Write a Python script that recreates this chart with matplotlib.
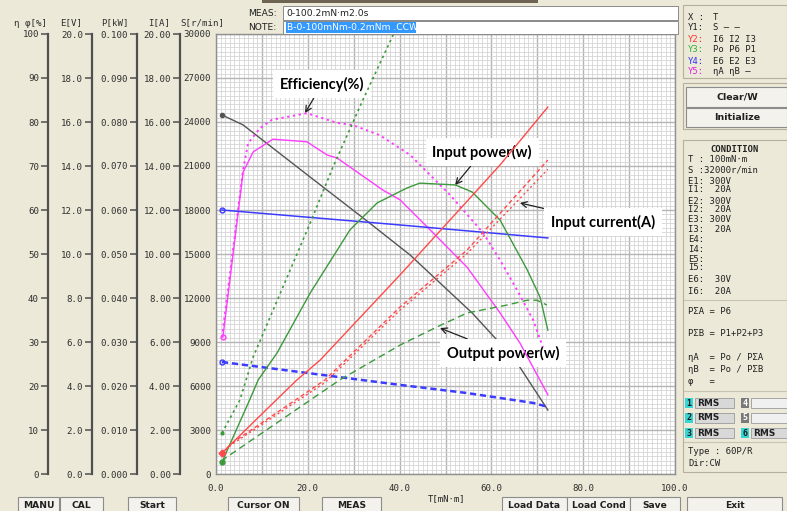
import matplotlib
matplotlib.use("Agg")
import matplotlib.pyplot as plt
from matplotlib.patches import Rectangle
from matplotlib.ticker import FixedLocator, FuncFormatter
import numpy as np

# ---------------- data ----------------
# Y1 : speed S [r/min]
t_speed = [1.3, 5.9, 20.5, 32.9, 42.3, 48.1, 55.8, 61.2, 65.6, 72.3]
speed_S = [24480, 23800, 20250, 17250, 14930, 13230, 10980, 9140, 7570, 4360]

# Y2 : currents [A]
t_i6 = [1.3, 10.0, 17.6, 22.7, 40.1, 61.9, 72.3]
cur_I6 = [0.95, 2.73, 4.27, 5.18, 9.05, 14.05, 16.68]
t_i2 = [1.3, 3.5, 23.7, 40.1, 54.7, 72.3]
cur_I2 = [0.95, 1.41, 4.27, 7.59, 10.18, 14.27]
t_i3 = [1.3, 3.5, 23.7, 40.1, 54.7, 72.3]
cur_I3 = [0.95, 1.35, 4.15, 7.45, 10.02, 13.85]

# Y3 : powers [kW]
t_po = [1.3, 2.0, 27.0, 40.1, 48.1, 54.7, 63.4, 67.8, 69.9, 72.1]
pow_Po = [0.0027, 0.0036, 0.0214, 0.0293, 0.0334, 0.0366, 0.0384, 0.0395, 0.0395, 0.0384]
t_p6 = [1.3, 7.4, 9.2, 13.3, 20.5, 29.2, 35.1, 41.6, 44.4, 52.1, 55.8, 61.9, 67.8, 70.6, 72.3]
pow_P6 = [0.0027, 0.0170, 0.0214, 0.0275, 0.0411, 0.0555, 0.0616, 0.0650, 0.0661,
          0.0657, 0.0641, 0.0577, 0.0464, 0.0402, 0.0327]
t_p1 = [1.3, 5.2, 8.1, 20.5, 25.5, 32.0, 38.6]
pow_P1 = [0.0093, 0.0168, 0.0266, 0.0570, 0.0698, 0.0850, 0.0998]

# Y4 : voltages [V]
t_e6 = [1.3, 40.1, 72.3]
volt_E6 = [12.0, 11.32, 10.73]
t_e2 = [1.3, 40.1, 54.7, 69.1, 72.3]
volt_E2 = [5.09, 4.05, 3.68, 3.23, 3.05]

# Y5 : efficiencies [%]
t_etaA = [1.5, 5.9, 8.1, 12.4, 19.8, 24.2, 26.4, 36.4, 40.1, 47.3, 54.7, 61.9, 66.2, 72.3]
eff_A = [31.1, 68.6, 73.2, 76.1, 75.5, 72.5, 71.8, 64.5, 62.3, 54.8, 47.0, 36.6, 29.8, 18.0]
t_etaB = [1.3, 5.9, 7.0, 9.6, 12.2, 19.8, 26.4, 29.8, 35.7, 42.3, 51.0, 58.2, 61.9, 65.6, 69.1, 71.2]
eff_B = [31.1, 69.1, 75.2, 78.6, 80.5, 82.0, 79.8, 79.3, 77.0, 72.5, 63.4, 54.8, 48.6, 41.8, 35.0, 28.9]

# axis ticks
x_ticks = list(range(0, 101, 10))
s_ticks = list(range(0, 30001, 3000))
eta_ticks = list(range(0, 101, 10))
e_ticks = [0.0, 2.0, 4.0, 6.0, 8.0, 10.0, 12.0, 14.0, 16.0, 18.0, 20.0]
p_ticks = [0.0, 0.01, 0.02, 0.03, 0.04, 0.05, 0.06, 0.07, 0.08, 0.09, 0.10]
i_ticks = [0.0, 2.0, 4.0, 6.0, 8.0, 10.0, 12.0, 14.0, 16.0, 18.0, 20.0]

# ---------------- figure ----------------
W, H = 787, 511
BG = "#ece9d8"
MONO = "DejaVu Sans Mono"
plt.rcParams["font.family"] = [MONO]
fig = plt.figure(figsize=(W / 100, H / 100), dpi=100, facecolor=BG)


def rect(x0, y0, x1, y1, **kw):
    r = Rectangle((x0 / W, 1 - y1 / H), (x1 - x0) / W, (y1 - y0) / H,
                  transform=fig.transFigure, **kw)
    fig.patches.append(r)
    return r


def hline(x0, x1, y, **kw):
    fig.lines.append(plt.Line2D([x0 / W, x1 / W], [1 - y / H, 1 - y / H],
                                transform=fig.transFigure, **kw))


def txt(x, y, s, **kw):
    kw.setdefault("va", "center")
    kw.setdefault("fontsize", 6.4)
    kw.setdefault("color", "#202020")
    return fig.text(x / W, 1 - y / H, s, **kw)


PL, PR, PT, PB = 216, 675, 34, 474
ax = fig.add_axes([PL / W, 1 - PB / H, (PR - PL) / W, (PB - PT) / H])
ax.set_facecolor("white")
ax.set_xlim(0, 100)
ax.set_ylim(0, 30000)
ax.set_xticks(x_ticks)
ax.set_xticks(np.arange(0, 101, 1), minor=True)
ax.set_yticks(s_ticks)
ax.set_yticks(np.arange(0, 30001, 300), minor=True)
ax.xaxis.set_major_formatter(FuncFormatter(lambda v, p: f"{v:.1f}" if int(round(v)) % 20 == 0 else ""))
ax.yaxis.set_major_formatter(FuncFormatter(lambda v, p: f"{int(v)}"))
ax.tick_params(which="both", length=0)
ax.tick_params(axis="x", pad=7, labelsize=6.6, labelcolor="#303030")
ax.tick_params(axis="y", pad=3.5, labelsize=6.6, labelcolor="#303030")
ax.grid(which="major", color="#b4b4b4", lw=1.0)
ax.grid(which="minor", color="#d2d2d2", lw=0.55)
ax.set_axisbelow(True)
for s in ax.spines.values():
    s.set_color("#909090")
    s.set_linewidth(1.0)

txt(447, 499, "T[mN·m]", ha="center")

# speed on main axis
ax.plot(t_speed, speed_S, color="#555555", lw=1.0, zorder=3)
ax.plot(t_speed[:1], speed_S[:1], "o", color="#555555", ms=3, zorder=3)


def side_axis(px, lim, ticks, fmt):
    a = ax.twinx()
    a.set_ylim(*lim)
    a.patch.set_visible(False)
    for s in a.spines.values():
        s.set_visible(False)
    sp = a.spines["left"]
    sp.set_visible(True)
    sp.set_position(("axes", (px - PL) / (PR - PL)))
    sp.set_color("#505050")
    sp.set_linewidth(1.6)
    a.yaxis.set_ticks_position("left")
    a.yaxis.set_major_locator(FixedLocator(ticks))
    a.yaxis.set_major_formatter(FuncFormatter(lambda v, p: fmt.format(v)))
    a.tick_params(axis="y", direction="out", length=5, width=1.1, color="#505050",
                  labelsize=6.6, labelcolor="#303030", pad=1.5)
    return a


ax_eta = side_axis(48, (0, 100), eta_ticks, "{:.0f}")
ax_e = side_axis(92, (0, 20), e_ticks, "{:.1f}")
ax_p = side_axis(137, (0, 0.1), p_ticks, "{:.3f}")
ax_i = side_axis(180, (0, 20), i_ticks, "{:.2f}")

for x, lab in [(30, "η φ[%]"), (71, "E[V]"), (115, "P[kW]"), (159, "I[A]"), (202, "S[r/min]")]:
    txt(x, 23, lab, ha="center", fontsize=6.6, color="#303030")

# curves
RED, GREEN, BLUE, MAG = "#ff4a4a", "#3c9a3c", "#3c3cff", "#ff3cff"
ax_i.plot(t_i6, cur_I6, color=RED, lw=1.0)
ax_i.plot(t_i2, cur_I2, color=RED, lw=1.0, ls=(0, (3, 2)))
ax_i.plot(t_i3, cur_I3, color=RED, lw=1.0, ls=(0, (1.5, 2)))
ax_i.plot(t_i6[:1], cur_I6[:1], "D", color=RED, ms=3.5)

ax_p.plot(t_p6, pow_P6, color=GREEN, lw=1.0)
ax_p.plot(t_po, pow_Po, color=GREEN, lw=1.0, ls=(0, (5, 3)))
ax_p.plot(t_p1, pow_P1, color=GREEN, lw=1.2, ls=(0, (1.5, 2)))
ax_p.plot(t_p6[:1], pow_P6[:1], "o", color=GREEN, ms=3.5)
ax_p.plot(t_p1[:1], pow_P1[:1], "o", color=GREEN, ms=2)

ax_e.plot(t_e6, volt_E6, color=BLUE, lw=1.1)
ax_e.plot(t_e2, volt_E2, color=BLUE, lw=1.8, ls=(0, (2.5, 1.5)))
ax_e.plot(t_e6[:1], volt_E6[:1], "o", mfc="none", mec=BLUE, ms=3.5)
ax_e.plot(t_e2[:1], volt_E2[:1], "o", mfc="none", mec=BLUE, ms=3.5)

ax_eta.plot(t_etaA, eff_A, color=MAG, lw=1.0)
ax_eta.plot(t_etaB, eff_B, color=MAG, lw=1.4, ls=(0, (1.2, 1.8)))
ax_eta.plot(t_etaA[:1], eff_A[:1], "o", mfc="none", mec=MAG, ms=3.5)

# annotations (main axis data coordinates)
ann_kw = dict(fontsize=10.5, fontweight="bold", family="Lato", color="black", ha="center", va="center",
              bbox=dict(boxstyle="square,pad=0.45", fc="white", ec="none"),
              arrowprops=dict(arrowstyle="->", color="#202020", lw=0.9, shrinkA=0, shrinkB=0))
ax.annotate("Efficiency(%)", xy=(19.4, 24610), xytext=(23.1, 26590), zorder=6, **ann_kw)
ax.annotate("Input power(w)", xy=(52.1, 19700), xytext=(58.0, 21950), zorder=6, **ann_kw)
ax.annotate("Input current(A)", xy=(66.2, 18480), xytext=(84.3, 17180), zorder=6, **ann_kw)
ax.annotate("Output power(w)", xy=(48.8, 9950), xytext=(62.5, 8250), zorder=6, **ann_kw)

# ---------------- UI chrome ----------------
rect(262, 0, 538, 3, fc="#6e6452", ec="none")
txt(262, 13, "MEAS:", ha="center", family="DejaVu Sans", fontsize=6.6)
txt(262, 27, "NOTE:", ha="center", family="DejaVu Sans", fontsize=6.6)
rect(283, 6, 678, 20, fc="white", ec="#8a8a8a", lw=0.7)
rect(283, 21, 678, 34, fc="white", ec="#8a8a8a", lw=0.7)
txt(286, 13, "0-100.2mN·m2.0s", ha="left", family="DejaVu Sans", fontsize=6.6)
rect(286, 22, 416, 33, fc="#3399ff", ec="none")
txt(287, 27.5, "B-0-100mNm-0.2mNm .CCW", ha="left", family="DejaVu Sans", fontsize=6.6, color="white")

# right panel: axis assignment
rect(683, 5, 787, 78, fc=BG, ec="#b5b09c", lw=0.8)
rows = [("X :", "T", "#202020"), ("Y1:", "S — —", "#202020"), ("Y2:", "I6 I2 I3", "#ff3030"),
        ("Y3:", "Po P6 P1", "#30b030"), ("Y4:", "E6 E2 E3", "#3030ff"), ("Y5:", "ηA ηB —", "#e020e0")]
for k, (lab, val, c) in enumerate(rows):
    y = 17 + k * 11
    txt(688, y, lab, ha="left", color=c)
    txt(713, y, val, ha="left")

# buttons
rect(683, 83, 787, 129, fc=BG, ec="#b5b09c", lw=0.8)
rect(686, 87, 787, 107, fc="#f3f2ec", ec="#8c8c8c", lw=0.8)
rect(686, 108, 787, 127, fc="#f3f2ec", ec="#8c8c8c", lw=0.8)
txt(737, 97, "Clear/W", ha="center", fontweight="bold", family="DejaVu Sans", fontsize=6.8)
txt(737, 117.5, "Initialize", ha="center", fontweight="bold", family="DejaVu Sans", fontsize=6.8)

# condition panel
rect(683, 140, 787, 472, fc=BG, ec="#b5b09c", lw=0.8)
txt(735, 150, "CONDITION", ha="center", fontweight="bold")
cond = [("T : 100mN·m", 160), ("S :32000r/min", 170), ("E1: 300V", 181), ("I1:  20A", 190),
        ("E2: 300V", 201), ("I2:  20A", 210), ("E3: 300V", 220), ("I3:  20A", 229),
        ("E4:", 240), ("I4:", 249), ("E5:", 260), ("I5:", 268), ("E6:  30V", 280), ("I6:  20A", 291)]
for s, y in cond:
    txt(688, y, s, ha="left")
hline(684, 786, 300, color="#c9c4b0", lw=0.8)
formulas = [("PΣA = P6", 311), ("PΣB = P1+P2+P3", 333), ("ηA  = Po / PΣA", 358),
            ("ηB  = Po / PΣB", 370), ("φ   =", 381)]
for s, y in formulas:
    txt(688, y, s, ha="left")
hline(684, 786, 391, color="#c9c4b0", lw=0.8)
rms = [(685, 403, "1", True, "RMS"), (685, 418, "2", True, "RMS"), (685, 433, "3", True, "RMS"),
       (741, 403, "4", False, ""), (741, 418, "5", False, ""), (741, 433, "6", True, "RMS")]
for x, y, n, on, lab in rms:
    rect(x, y - 5, x + 8, y + 5, fc="#35d6d6" if on else "#7a7a7a", ec="none")
    txt(x + 4, y, n, ha="center", fontweight="bold", color="#1a1a1a" if on else "white", fontsize=6)
    x1 = 734 if x < 700 else 787
    rect(x + 10, y - 5, x1, y + 5, fc="#d8d8d8" if lab else "#f0f0f0", ec="#9a9a9a", lw=0.6)
    if lab:
        txt(x + 12, y, lab, ha="left", fontweight="bold", family="DejaVu Sans", fontsize=6.4)
hline(684, 786, 442, color="#c9c4b0", lw=0.8)
txt(688, 452, "Type : 60P/R", ha="left")
txt(688, 463, "Dir:CW", ha="left")

# bottom buttons
buttons = [(18, 59, "MANU"), (60, 103, "CAL"), (128, 176, "Start"), (228, 299, "Cursor ON"),
           (322, 381, "MEAS"), (502, 567, "Load Data"), (567, 630, "Load Cond"), (630, 680, "Save"),
           (687, 782, "Exit")]
for x0, x1, lab in buttons:
    rect(x0, 497, x1, 515, fc="#f3f2ec", ec="#8c8c8c", lw=0.8)
    txt((x0 + x1) / 2, 505, lab, ha="center", fontweight="bold", family="DejaVu Sans", fontsize=6.6)

fig.savefig("out.png", dpi=100, facecolor=BG)
